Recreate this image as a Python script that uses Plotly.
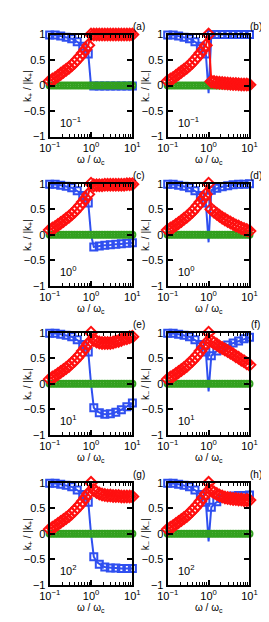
import plotly.graph_objects as go
from plotly.subplots import make_subplots

# ---------------- data ----------------
x_grid = [0.1, 0.1166, 0.1359, 0.1585, 0.1848, 0.2154, 0.2512, 0.2929, 0.3415, 0.3981,
          0.4642, 0.5412, 0.6310, 0.7356, 0.8577, 1.0, 1.166, 1.359, 1.585, 1.848,
          2.154, 2.512, 2.929, 3.415, 3.981, 4.642, 5.412, 6.310, 7.356, 8.577, 10.0]

# shared low-frequency part (omega < omega_c), 15 points
low_blue = [0.99, 0.99, 0.99, 0.98, 0.97, 0.96, 0.95, 0.94, 0.92, 0.89, 0.86, 0.82, 0.77, 0.70, 0.62]
low_red = [0.09, 0.12, 0.15, 0.19, 0.23, 0.27, 0.31, 0.35, 0.40, 0.45, 0.51, 0.57, 0.64, 0.71, 0.79]

# high-frequency part (omega >= omega_c), 16 points, per panel
blue_a = [0.0, -0.01, -0.01, -0.01, -0.01, -0.01, -0.01, -0.01, -0.01, -0.01, -0.01, -0.01, -0.01, -0.01, -0.01, -0.01]
red_a = [1.0, 1.0, 1.0, 1.0, 1.0, 1.0, 1.0, 1.0, 1.0, 1.0, 1.0, 1.0, 1.0, 1.0, 1.0, 1.0]
blue_b = [-0.15, 1.0, 1.0, 1.0, 1.0, 1.0, 1.0, 1.0, 1.0, 1.0, 1.0, 1.0, 1.0, 1.0, 1.0, 1.0]
red_b = [1.0, 0.08, 0.07, 0.06, 0.055, 0.05, 0.045, 0.04, 0.035, 0.03, 0.03, 0.025, 0.02, 0.02, 0.02, 0.015]
blue_c = [0.0, -0.24, -0.23, -0.22, -0.22, -0.21, -0.21, -0.20, -0.20, -0.19, -0.19, -0.18, -0.18, -0.17, -0.17, -0.16]
red_c = [1.0, 0.97, 0.97, 0.97, 0.97, 0.98, 0.98, 0.98, 0.98, 0.98, 0.98, 0.98, 0.98, 0.99, 0.99, 0.99]
blue_d = [-0.15, 0.87, 0.89, 0.91, 0.93, 0.94, 0.95, 0.96, 0.97, 0.98, 0.98, 0.99, 0.99, 0.99, 1.0, 1.0]
red_d = [1.0, 0.50, 0.45, 0.41, 0.37, 0.33, 0.30, 0.27, 0.24, 0.21, 0.18, 0.16, 0.13, 0.11, 0.09, 0.07]
blue_e = [0.0, -0.47, -0.54, -0.57, -0.59, -0.60, -0.60, -0.59, -0.58, -0.56, -0.54, -0.51, -0.48, -0.45, -0.42, -0.38]
red_e = [1.0, 0.86, 0.83, 0.81, 0.80, 0.80, 0.80, 0.80, 0.81, 0.83, 0.84, 0.86, 0.88, 0.89, 0.91, 0.92]
blue_f = [-0.15, 0.55, 0.60, 0.64, 0.68, 0.71, 0.74, 0.76, 0.78, 0.80, 0.82, 0.84, 0.86, 0.88, 0.90, 0.91]
red_f = [1.0, 0.84, 0.80, 0.77, 0.73, 0.70, 0.67, 0.64, 0.61, 0.58, 0.54, 0.51, 0.47, 0.44, 0.40, 0.37]
blue_g = [0.0, -0.45, -0.55, -0.60, -0.63, -0.65, -0.66, -0.67, -0.67, -0.67, -0.68, -0.68, -0.68, -0.68, -0.68, -0.68]
red_g = [1.0, 0.86, 0.82, 0.79, 0.77, 0.76, 0.75, 0.75, 0.74, 0.74, 0.74, 0.73, 0.73, 0.73, 0.73, 0.73]
blue_h = [-0.15, 0.52, 0.58, 0.63, 0.66, 0.69, 0.71, 0.72, 0.73, 0.74, 0.74, 0.75, 0.75, 0.75, 0.75, 0.76]
red_h = [1.0, 0.85, 0.81, 0.78, 0.75, 0.73, 0.71, 0.70, 0.69, 0.68, 0.68, 0.67, 0.67, 0.66, 0.66, 0.66]
green_all = [0.0] * 31

panel_labels = ["(a)", "(b)", "(c)", "(d)", "(e)", "(f)", "(g)", "(h)"]
param_labels = ["10<sup>−1</sup>", "10<sup>−1</sup>", "10<sup>0</sup>", "10<sup>0</sup>",
                "10<sup>1</sup>", "10<sup>1</sup>", "10<sup>2</sup>", "10<sup>2</sup>"]
blue_hi = [blue_a, blue_b, blue_c, blue_d, blue_e, blue_f, blue_g, blue_h]
red_hi = [red_a, red_b, red_c, red_d, red_e, red_f, red_g, red_h]

x_tickvals = [0.1, 1, 10]
x_ticktext = ["10<sup>−1</sup>", "10<sup>0</sup>", "10<sup>1</sup>"]
x_minor = [0.2, 0.3, 0.4, 0.5, 0.6, 0.7, 0.8, 0.9, 2, 3, 4, 5, 6, 7, 8, 9]
y_tickvals = [-1, -0.5, 0, 0.5, 1]
y_ticktext = ["−1", "−0.5", "0", "0.5", "1"]

# ---------------- style ----------------
W, H = 269, 622
BLUE = "#2f4ff0"
RED = "#ff1010"
GREEN = "#32a01e"
FONT = "Liberation Sans"
LW = 2.0

col_px = [(33, 122), (160, 248)]
row_top = [21, 173, 325, 478]
ph = 104

fig = make_subplots(rows=4, cols=2)

annotations = []
for i in range(8):
    r, c = i // 2, i % 2
    blue = low_blue + blue_hi[i]
    red = low_red + red_hi[i]
    kw = dict(row=r + 1, col=c + 1)
    fig.add_trace(go.Scatter(x=x_grid, y=blue, mode="lines", line=dict(color=BLUE, width=LW),
                             cliponaxis=False, showlegend=False, hoverinfo="skip"), **kw)
    bx = [x_grid[j] for j in range(31) if j % 2 == 0]
    by = [blue[j] for j in range(31) if j % 2 == 0]
    fig.add_trace(go.Scatter(x=bx, y=by, mode="markers",
                             marker=dict(symbol="square-open", size=7, color=BLUE, line=dict(width=LW)),
                             cliponaxis=False, showlegend=False), **kw)
    fig.add_trace(go.Scatter(x=x_grid, y=green_all, mode="lines+markers", line=dict(color=GREEN, width=LW),
                             marker=dict(symbol="circle-open", size=6, color=GREEN, line=dict(width=LW)),
                             cliponaxis=False, showlegend=False), **kw)
    fig.add_trace(go.Scatter(x=x_grid, y=red, mode="lines+markers", line=dict(color=RED, width=LW),
                             marker=dict(symbol="diamond-open", size=9, color=RED, line=dict(width=LW)),
                             cliponaxis=False, showlegend=False), **kw)

    x0, x1 = col_px[c]
    top = row_top[r]
    bot = top + ph
    xd = [x0 / W, x1 / W]
    yd = [1 - bot / H, 1 - top / H]
    n = i + 1
    xa = "xaxis" if n == 1 else f"xaxis{n}"
    ya = "yaxis" if n == 1 else f"yaxis{n}"
    fig.layout[xa].update(domain=xd, type="log", range=[-1, 1], tickvals=x_tickvals, ticktext=x_ticktext,
                          ticks="inside", ticklen=5, tickwidth=1.5, tickcolor="black",
                          showline=True, linewidth=2, linecolor="black", mirror="ticks",
                          showgrid=False, zeroline=False,
                          minor=dict(tickvals=x_minor, ticks="inside", ticklen=3, tickwidth=1, tickcolor="black"),
                          tickfont=dict(family=FONT, size=11, color="black"))
    fig.layout[ya].update(domain=yd, range=[-1, 1], tickvals=y_tickvals, ticktext=y_ticktext,
                          ticks="inside", ticklen=5, tickwidth=1.5, tickcolor="black",
                          showline=True, linewidth=2, linecolor="black", mirror="ticks",
                          showgrid=False, zeroline=False,
                          tickfont=dict(family=FONT, size=11, color="black"))

    annotations.append(dict(text=panel_labels[i], x=(x1 + 7) / W, y=1 - (top - 8) / H, xref="paper", yref="paper",
                            showarrow=False, font=dict(family=FONT, size=10, color="black"),
                            xanchor="center", yanchor="middle"))
    annotations.append(dict(text=param_labels[i], x=(x0 + 9) / W, y=1 - (bot - 15) / H, xref="paper", yref="paper",
                            showarrow=False, font=dict(family=FONT, size=11, color="black"),
                            xanchor="left", yanchor="middle"))
    annotations.append(dict(text="ω / ω<sub>c</sub>", x=(x0 + x1) / 2 / W, y=1 - (bot + 24) / H,
                            xref="paper", yref="paper", showarrow=False,
                            font=dict(family=FONT, size=10, color="black"), xanchor="center", yanchor="middle"))
    ytxt = "k<sub>+</sub> / |k<sub>+</sub>|" if c == 0 else "k<sub>−</sub> / |k<sub>−</sub>|"
    annotations.append(dict(text=ytxt, x=(x0 - 24) / W, y=1 - (top + ph / 2) / H, xref="paper", yref="paper",
                            showarrow=False, textangle=-90,
                            font=dict(family=FONT, size=10, color="black"), xanchor="center", yanchor="middle"))

fig.update_layout(width=W, height=H, margin=dict(l=0, r=0, t=0, b=0),
                  paper_bgcolor="white", plot_bgcolor="white", showlegend=False,
                  annotations=annotations, font=dict(family=FONT, size=11, color="black"))

fig.write_html("out.html")
